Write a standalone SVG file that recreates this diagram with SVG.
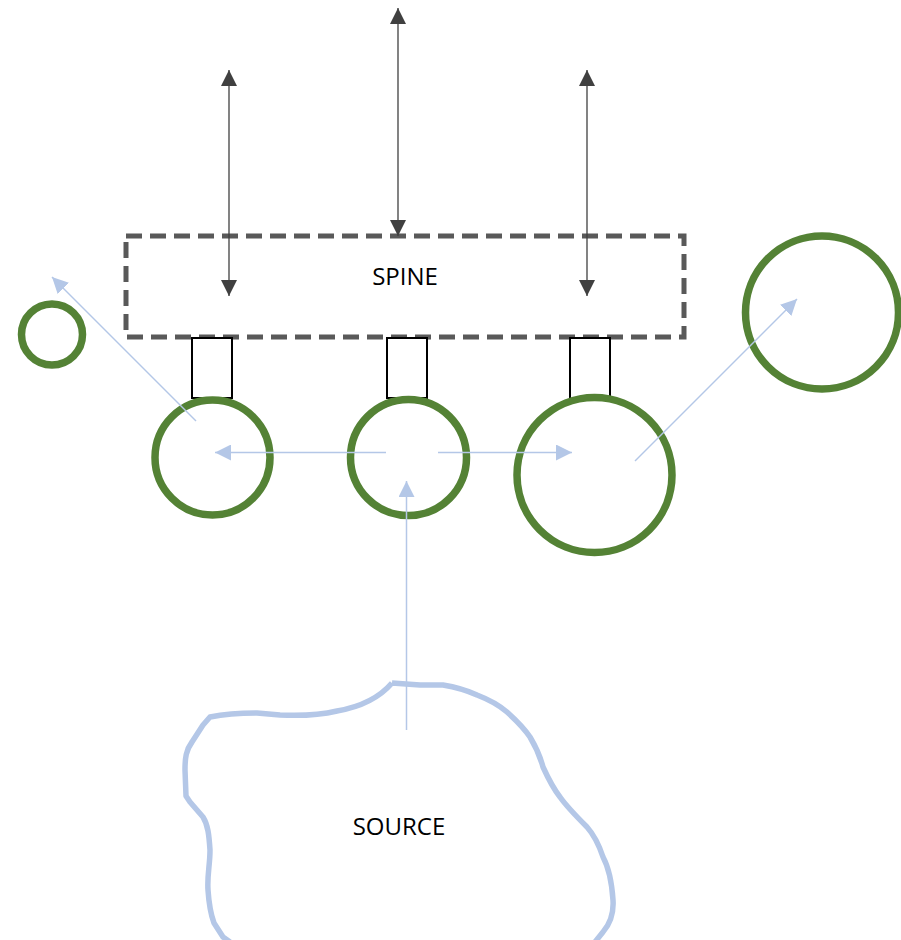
<svg xmlns="http://www.w3.org/2000/svg" width="901" height="940" viewBox="0 0 901 940">
<style>
.ring{fill:none;stroke:#548235;stroke-width:7.5}
.port{fill:#fff;stroke:#000;stroke-width:2}
.dark{stroke:#404040;stroke-width:1.3;fill:none}
.blue{stroke:#B4C7E7;stroke-width:1.5;fill:none}
.lbl{font-family:"Open Sans","Liberation Sans",Arial,sans-serif;font-size:24px;fill:#000;text-anchor:middle}
</style>
<defs>
<marker id="ad" viewBox="0 0 16 16" refX="16" refY="8" markerWidth="16" markerHeight="16" markerUnits="userSpaceOnUse" orient="auto-start-reverse"><path d="M0,0L16,8L0,16Z" fill="#404040"/></marker>
<marker id="ab" viewBox="0 0 16 16" refX="16" refY="8" markerWidth="16" markerHeight="16" markerUnits="userSpaceOnUse" orient="auto"><path d="M0,0L16,8L0,16Z" fill="#B4C7E7"/></marker>
</defs>
<g id="spine">
<rect x="126" y="236" width="558" height="101" fill="none" stroke="#595959" stroke-width="5" stroke-dasharray="16,8"/>
<text class="lbl" x="405" y="285">SPINE</text>
</g>
<g id="port1"><rect class="port" x="192" y="338" width="40" height="60"/></g>
<g id="port2"><rect class="port" x="387" y="338" width="40" height="60"/></g>
<g id="port3"><rect class="port" x="570" y="338" width="40" height="61"/></g>
<g id="node1"><circle class="ring" cx="212.5" cy="457.5" r="57.5"/></g>
<g id="node2"><circle class="ring" cx="408.5" cy="457.5" r="58"/></g>
<g id="node3"><circle class="ring" cx="594.5" cy="475" r="77.5"/></g>
<g id="node4"><circle class="ring" cx="822" cy="312.5" r="76.5"/></g>
<g id="node5"><circle class="ring" cx="52" cy="334.5" r="30.5"/></g>
<g id="source">
<path d="M392,683 C380,697 360,707 337,711 C320,715 300,716 280,715 L257,713 C240,713 225,714 210,717 L203,725 L192,742 C186,750 185,758 185,770 L186,796 L190,802 L203,817 C208,825 209,835 210,850 C210,865 207,875 208,890 C209,905 211,915 214,923 L223,937 L230,942 M392,683 L420,685 L443,685 C455,687 466,690 477,695 C490,700 500,706 507,712 C517,721 524,728 530,737 C536,747 540,756 543,767 C548,778 553,788 560,797 C567,807 577,817 587,827 C595,836 599,845 603,857 C610,870 612,885 613,900 C614,915 610,924 603,932 L595,942" fill="none" stroke="#B4C7E7" stroke-width="5.5" stroke-linejoin="round"/>
<text class="lbl" x="399" y="835">SOURCE</text>
</g>
<g id="connectors">
<line class="dark" x1="229" y1="70" x2="229" y2="296" marker-start="url(#ad)" marker-end="url(#ad)"/>
<line class="dark" x1="398" y1="8" x2="398" y2="236" marker-start="url(#ad)" marker-end="url(#ad)"/>
<line class="dark" x1="587" y1="70" x2="587" y2="296" marker-start="url(#ad)" marker-end="url(#ad)"/>
<line class="blue" x1="196" y1="421" x2="52" y2="277" marker-end="url(#ab)"/>
<line class="blue" x1="386" y1="452.5" x2="215" y2="452.5" marker-end="url(#ab)"/>
<line class="blue" x1="438" y1="452.5" x2="572" y2="452.5" marker-end="url(#ab)"/>
<line class="blue" x1="406.5" y1="730" x2="406.5" y2="481" marker-end="url(#ab)"/>
<line class="blue" x1="635" y1="461" x2="797" y2="299" marker-end="url(#ab)"/>
</g>
</svg>
